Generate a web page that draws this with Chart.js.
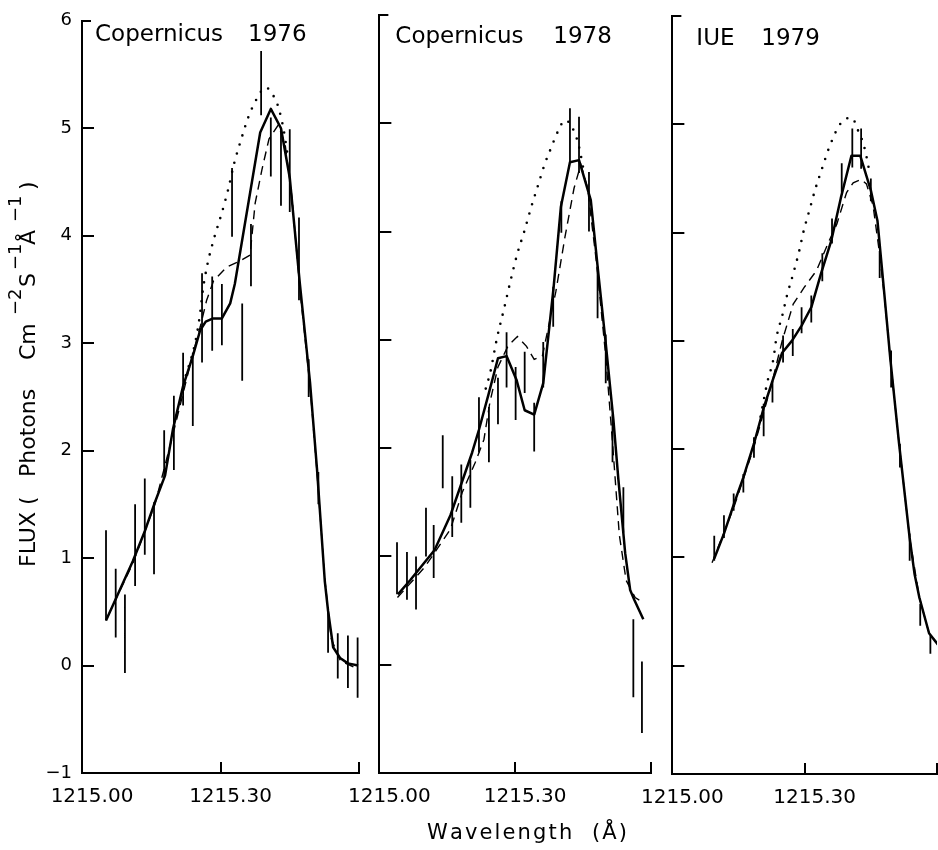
<!DOCTYPE html>
<html>
<head>
<meta charset="utf-8">
<title>Lyman-alpha profiles</title>
<script src="https://cdn.jsdelivr.net/npm/chart.js@4.4.1/dist/chart.umd.min.js"></script>
<style>
  html, body { margin: 0; padding: 0; background: #fff; }
  body { width: 938px; height: 850px; overflow: hidden; position: relative; }
  canvas { position: absolute; top: 0; }
</style>
</head>
<body>
<canvas id="panel1976" width="372" height="850" style="left:0px"></canvas>
<canvas id="panel1978" width="340" height="850" style="left:326px"></canvas>
<canvas id="panel1979" width="330" height="850" style="left:619px"></canvas>
<script>
// ---- axis ticks ----
const xTickValues = [1215.00, 1215.30, 1215.60];
const xTickLabels = ['1215.00', '1215.30', ''];
const yTickValues = [-1, 0, 1, 2, 3, 4, 5, 6];
const yTickLabels = ['\u22121', '0', '1', '2', '3', '4', '5', '6'];

// ---- Copernicus 1976 ----
const cop76Wave = [1215.052, 1215.110, 1215.136, 1215.158, 1215.180, 1215.197, 1215.219, 1215.240, 1215.256, 1215.268, 1215.284, 1215.303, 1215.321, 1215.331, 1215.386, 1215.409, 1215.431, 1215.450, 1215.472, 1215.494, 1215.509, 1215.526, 1215.533, 1215.544, 1215.559, 1215.576, 1215.598];
const cop76Flux = [0.42, 0.97, 1.25, 1.52, 1.77, 2.20, 2.60, 2.88, 3.12, 3.20, 3.23, 3.23, 3.37, 3.55, 4.96, 5.18, 5.00, 4.54, 3.55, 2.63, 1.83, 0.78, 0.51, 0.17, 0.07, 0.02, 0.00];
const cop76ModelWave = [1215.055, 1215.110, 1215.158, 1215.197, 1215.240, 1215.256, 1215.270, 1215.285, 1215.314, 1215.340, 1215.364, 1215.375, 1215.390, 1215.405, 1215.425, 1215.440, 1215.455, 1215.472, 1215.494, 1215.509, 1215.526, 1215.540, 1215.560, 1215.598];
const cop76ModelFlux = [0.45, 0.95, 1.50, 2.15, 2.90, 3.15, 3.40, 3.58, 3.71, 3.76, 3.82, 4.30, 4.62, 4.90, 5.03, 4.85, 4.35, 3.50, 2.60, 1.80, 0.80, 0.25, 0.04, -0.03];
const cop76IntrWave = [1215.225, 1215.245, 1215.255, 1215.262, 1215.272, 1215.287, 1215.302, 1215.316, 1215.330, 1215.345, 1215.360, 1215.378, 1215.398, 1215.412, 1215.425, 1215.437, 1215.447];
const cop76IntrFlux = [2.70, 3.00, 3.25, 3.50, 3.74, 3.99, 4.20, 4.42, 4.68, 4.90, 5.10, 5.27, 5.38, 5.32, 5.20, 4.98, 4.70];
const cop76ErrWave = [1215.052, 1215.073, 1215.093, 1215.115, 1215.136, 1215.156, 1215.178, 1215.199, 1215.219, 1215.240, 1215.260, 1215.282, 1215.303, 1215.325, 1215.347, 1215.366, 1215.388, 1215.409, 1215.431, 1215.450, 1215.470, 1215.491, 1215.512, 1215.533, 1215.554, 1215.576, 1215.597];
const cop76ErrHigh = [1.26, 0.90, 0.66, 1.50, 1.74, 1.52, 2.19, 2.51, 2.91, 2.91, 3.65, 3.62, 3.55, 4.63, 3.37, 4.11, 5.72, 5.10, 5.00, 4.99, 4.17, 2.85, 1.80, 0.54, 0.30, 0.28, 0.26];
const cop76ErrLow = [0.42, 0.26, -0.07, 0.74, 1.03, 0.85, 1.74, 1.82, 2.42, 2.23, 2.82, 2.93, 2.98, 3.99, 2.65, 3.53, 5.12, 4.55, 4.28, 4.22, 3.40, 2.50, 1.50, 0.12, -0.12, -0.21, -0.30];

// ---- Copernicus 1978 ----
const cop78Wave = [1215.041, 1215.068, 1215.122, 1215.157, 1215.205, 1215.220, 1215.242, 1215.262, 1215.281, 1215.303, 1215.321, 1215.342, 1215.362, 1215.385, 1215.401, 1215.421, 1215.441, 1215.467, 1215.484, 1215.500, 1215.517, 1215.528, 1215.543, 1215.554, 1215.563, 1215.583];
const cop78Flux = [0.65, 0.78, 1.06, 1.38, 1.96, 2.17, 2.51, 2.83, 2.85, 2.63, 2.35, 2.31, 2.60, 3.49, 4.23, 4.64, 4.66, 4.29, 3.60, 2.97, 2.26, 1.71, 1.03, 0.69, 0.60, 0.42];
const cop78ModelWave = [1215.040, 1215.100, 1215.157, 1215.183, 1215.212, 1215.231, 1215.244, 1215.262, 1215.285, 1215.305, 1215.325, 1215.342, 1215.360, 1215.375, 1215.390, 1215.410, 1215.430, 1215.445, 1215.460, 1215.480, 1215.500, 1215.515, 1215.530, 1215.545, 1215.565, 1215.585];
const cop78ModelFlux = [0.62, 0.90, 1.25, 1.59, 1.87, 2.08, 2.42, 2.75, 2.95, 3.03, 2.94, 2.82, 2.85, 3.15, 3.45, 3.95, 4.40, 4.62, 4.40, 3.70, 2.85, 2.05, 1.20, 0.78, 0.62, 0.57];
const cop78IntrWave = [1215.235, 1215.245, 1215.260, 1215.275, 1215.290, 1215.305, 1215.320, 1215.335, 1215.350, 1215.365, 1215.380, 1215.395, 1215.410, 1215.425, 1215.440, 1215.452];
const cop78IntrFlux = [2.55, 2.70, 3.02, 3.28, 3.55, 3.80, 4.00, 4.22, 4.42, 4.62, 4.78, 4.93, 5.03, 4.97, 4.80, 4.55];
const cop78ErrWave = [1215.039, 1215.061, 1215.081, 1215.103, 1215.120, 1215.140, 1215.161, 1215.181, 1215.201, 1215.220, 1215.242, 1215.262, 1215.281, 1215.301, 1215.321, 1215.342, 1215.362, 1215.384, 1215.402, 1215.421, 1215.441, 1215.463, 1215.482, 1215.500, 1215.515, 1215.539, 1215.561, 1215.580];
const cop78ErrHigh = [1.13, 1.04, 1.00, 1.45, 1.29, 2.12, 1.74, 1.85, 1.89, 2.47, 2.38, 2.65, 3.07, 2.75, 2.89, 2.42, 2.98, 3.49, 4.28, 5.14, 5.06, 4.55, 3.68, 3.05, 2.31, 1.64, 0.42, 0.03];
const cop78ErrLow = [0.65, 0.60, 0.51, 1.00, 0.80, 1.63, 1.18, 1.31, 1.45, 1.96, 1.87, 2.22, 2.56, 2.26, 2.51, 1.97, 2.56, 3.12, 3.99, 4.64, 4.54, 4.00, 3.20, 2.60, 1.87, 1.22, -0.30, -0.63];

// ---- IUE 1979 ----
const iueWave = [1215.095, 1215.117, 1215.141, 1215.161, 1215.185, 1215.207, 1215.227, 1215.249, 1215.271, 1215.293, 1215.315, 1215.337, 1215.360, 1215.382, 1215.406, 1215.426, 1215.450, 1215.465, 1215.480, 1215.494, 1215.514, 1215.538, 1215.549, 1215.560, 1215.582, 1215.605];
const iueFlux = [0.99, 1.22, 1.51, 1.74, 2.05, 2.38, 2.63, 2.89, 3.00, 3.14, 3.31, 3.62, 3.92, 4.32, 4.71, 4.71, 4.39, 4.11, 3.46, 2.84, 2.05, 1.18, 0.85, 0.63, 0.30, 0.18];
const iueModelWave = [1215.090, 1215.140, 1215.185, 1215.225, 1215.249, 1215.274, 1215.300, 1215.327, 1215.355, 1215.373, 1215.395, 1215.410, 1215.428, 1215.440, 1215.455, 1215.470, 1215.481, 1215.494, 1215.514, 1215.538, 1215.560, 1215.582, 1215.605];
const iueModelFlux = [0.95, 1.47, 2.02, 2.60, 3.00, 3.34, 3.50, 3.65, 3.92, 4.08, 4.37, 4.46, 4.49, 4.45, 4.25, 3.80, 3.40, 2.84, 2.05, 1.18, 0.63, 0.30, 0.18];
const iueIntrWave = [1215.200, 1215.216, 1215.229, 1215.236, 1215.249, 1215.260, 1215.274, 1215.287, 1215.298, 1215.311, 1215.324, 1215.340, 1215.355, 1215.377, 1215.392, 1215.408, 1215.419, 1215.428, 1215.437, 1215.446];
const iueIntrFlux = [2.30, 2.63, 2.83, 3.03, 3.23, 3.42, 3.62, 3.82, 4.02, 4.21, 4.40, 4.60, 4.78, 4.98, 5.05, 5.06, 4.96, 4.88, 4.76, 4.58];
const iueErrWave = [1215.095, 1215.117, 1215.139, 1215.161, 1215.185, 1215.207, 1215.227, 1215.251, 1215.273, 1215.293, 1215.315, 1215.340, 1215.362, 1215.384, 1215.408, 1215.428, 1215.450, 1215.470, 1215.496, 1215.516, 1215.538, 1215.562, 1215.585];
const iueErrHigh = [1.20, 1.39, 1.59, 1.77, 2.11, 2.42, 2.63, 3.05, 3.11, 3.31, 3.42, 3.81, 4.13, 4.64, 4.96, 4.96, 4.50, 3.83, 2.91, 2.05, 1.22, 0.57, 0.28];
const iueErrLow = [0.97, 1.18, 1.43, 1.60, 1.92, 2.12, 2.43, 2.80, 2.86, 3.07, 3.17, 3.55, 3.90, 4.37, 4.60, 4.59, 4.29, 3.58, 2.57, 1.83, 0.97, 0.37, 0.11];

// ---- helpers ----
const FONT = '"DejaVu Sans", "Liberation Sans", sans-serif';
Chart.defaults.font.family = FONT;
Chart.defaults.color = '#000';

function pts(xs, ys) { return xs.map((x, i) => ({ x, y: ys[i] })); }

// vertical error bars as separate two-point segments split by gaps
function bars(xs, hi, lo) {
  const out = [];
  xs.forEach((x, i) => { out.push({ x, y: lo[i] }, { x, y: hi[i] }, { x, y: null }); });
  return out;
}

// draws pieces of text at fixed offsets along the writing direction
function drawPlaced(ctx, runs, x0, y0) {
  runs.forEach(r => {
    ctx.font = r.font;
    ctx.fillText(r.t, x0 + r.at, y0 + (r.dy || 0));
  });
}

// draws one string spread evenly over a given width
function drawSpread(ctx, text, font, x0, y0, width) {
  ctx.font = font;
  const chars = [...text];
  const natural = chars.reduce((s, ch) => s + ctx.measureText(ch).width, 0);
  const gap = chars.length > 1 ? (width - natural) / (chars.length - 1) : 0;
  let x = x0;
  chars.forEach(ch => { ctx.fillText(ch, x, y0); x += ctx.measureText(ch).width + gap; });
}

// tick marks pointing into the plot
const innerTicks = {
  id: 'innerTicks',
  afterDraw(chart) {
    const { ctx, chartArea: a, scales: { x, y } } = chart;
    ctx.save();
    ctx.strokeStyle = '#000';
    ctx.lineWidth = 2;
    ctx.beginPath();
    y.ticks.forEach(t => {
      if (t.value === y.min) return;
      const py = Math.round(y.getPixelForValue(t.value));
      const len = t.value === y.max ? 9 : 12;
      ctx.moveTo(a.left, py); ctx.lineTo(a.left + len, py);
    });
    x.ticks.forEach(t => {
      if (t.value === x.min) return;
      const px = Math.round(x.getPixelForValue(t.value));
      ctx.moveTo(px, a.bottom); ctx.lineTo(px, a.bottom - 11);
    });
    ctx.stroke();
    ctx.restore();
  }
};

// panel captions and axis titles
const panelText = {
  id: 'panelText',
  afterDraw(chart, args, opts) {
    const ctx = chart.ctx, a = chart.chartArea;
    ctx.save();
    ctx.fillStyle = '#000';
    ctx.textAlign = 'left';
    ctx.textBaseline = 'alphabetic';
    drawPlaced(ctx, opts.title, a.left + opts.titleDx, opts.titleBaseline);
    if (opts.xTitle) {
      const xt = opts.xTitle;
      drawSpread(ctx, xt.text, xt.font, xt.cx - xt.width / 2, xt.baseline, xt.width);
    }
    if (opts.yTitle) {
      const yt = opts.yTitle;
      ctx.translate(yt.baselineX, yt.startY);
      ctx.rotate(-Math.PI / 2);
      drawPlaced(ctx, yt.runs, 0, 0);
    }
    ctx.restore();
  }
};

function makePanel(id, p) {
  const ds = [
    { data: pts(p.obsX, p.obsY), borderWidth: 2.5, borderJoinStyle: 'round' },
    { data: pts(p.modX, p.modY), borderWidth: 1.4, borderDash: [9, 6] },
    { data: pts(p.intX, p.intY), borderWidth: 2.6, borderDash: [0, 9.5], borderCapStyle: 'round', cubicInterpolationMode: 'monotone' },
    { data: bars(p.errX, p.errHi, p.errLo), borderWidth: 1.8 }
  ].map(d => Object.assign({ borderColor: '#000', pointRadius: 0, spanGaps: false, fill: false, tension: 0 }, d));

  return new Chart(document.getElementById(id), {
    type: 'line',
    data: { datasets: ds },
    plugins: [innerTicks, panelText],
    options: {
      responsive: false,
      animation: false,
      devicePixelRatio: 1,
      layout: { padding: { left: 0, right: p.padRight, top: p.padTop, bottom: 0 } },
      plugins: {
        legend: { display: false },
        tooltip: { enabled: false },
        panelText: p.text
      },
      scales: {
        x: {
          type: 'linear',
          min: xTickValues[0],
          max: xTickValues[xTickValues.length - 1],
          grid: { display: false, drawTicks: false },
          border: { display: true, color: '#000', width: 2 },
          ticks: {
            autoSkip: false, maxRotation: 0, minRotation: 0,
            padding: 12, labelOffset: 10,
            font: { size: 20 }, color: '#000',
            callback: (v, i) => xTickLabels[i]
          },
          afterBuildTicks: s => { s.ticks = xTickValues.map(v => ({ value: v })); },
          afterFit: s => { s.height = p.xHeight; }
        },
        y: {
          type: 'linear',
          min: yTickValues[0],
          max: yTickValues[yTickValues.length - 1],
          grid: { display: false, drawTicks: false },
          border: { display: true, color: '#000', width: 2 },
          ticks: {
            display: p.yLabels, padding: 10,
            font: { size: 18 }, color: '#000',
            callback: (v, i) => yTickLabels[i]
          },
          afterBuildTicks: s => { s.ticks = yTickValues.map(v => ({ value: v })); },
          afterFit: s => { s.width = p.yWidth; }
        }
      }
    }
  });
}

const TITLE_FONT = '23px ' + FONT;
const YT_FONT = '22px ' + FONT;
const YT_SUP = '18px ' + FONT;

makePanel('panel1976', {
  obsX: cop76Wave, obsY: cop76Flux,
  modX: cop76ModelWave, modY: cop76ModelFlux,
  intX: cop76IntrWave, intY: cop76IntrFlux,
  errX: cop76ErrWave, errHi: cop76ErrHigh, errLo: cop76ErrLow,
  padRight: 13, padTop: 15, xHeight: 77, yWidth: 82, yLabels: true,
  text: {
    titleDx: 13, titleBaseline: 41,
    title: [
      { t: 'Copernicus', at: 0, font: TITLE_FONT },
      { t: '1976', at: 153, font: TITLE_FONT }
    ],
    yTitle: {
      baselineX: 35, startY: 567,
      runs: [
        { t: 'FLUX', at: 0, font: YT_FONT },
        { t: '(', at: 62, font: YT_FONT },
        { t: 'Photons', at: 90, font: YT_FONT },
        { t: 'Cm', at: 207, font: YT_FONT },
        { t: '\u22122', at: 252, font: YT_SUP, dy: -14 },
        { t: 'S', at: 280, font: YT_FONT },
        { t: '\u22121', at: 297, font: YT_SUP, dy: -14 },
        { t: '\u00C5', at: 322, font: YT_FONT },
        { t: '\u22121', at: 345, font: YT_SUP, dy: -14 },
        { t: ')', at: 377, font: YT_FONT }
      ]
    }
  }
});

makePanel('panel1978', {
  obsX: cop78Wave, obsY: cop78Flux,
  modX: cop78ModelWave, modY: cop78ModelFlux,
  intX: cop78IntrWave, intY: cop78IntrFlux,
  errX: cop78ErrWave, errHi: cop78ErrHigh, errLo: cop78ErrLow,
  padRight: 15, padTop: 15, xHeight: 77, yWidth: 50, yLabels: false,
  text: {
    titleDx: 16, titleBaseline: 43,
    title: [
      { t: 'Copernicus', at: 0, font: TITLE_FONT },
      { t: '1978', at: 158, font: TITLE_FONT }
    ],
    xTitle: { text: 'Wavelength  (\u00C5)', font: '21px ' + FONT, cx: 201, baseline: 839, width: 200 }
  }
});

makePanel('panel1979', {
  obsX: iueWave, obsY: iueFlux,
  modX: iueModelWave, modY: iueModelFlux,
  intX: iueIntrWave, intY: iueIntrFlux,
  errX: iueErrWave, errHi: iueErrHigh, errLo: iueErrLow,
  padRight: 8, padTop: 16, xHeight: 76, yWidth: 50, yLabels: false,
  text: {
    titleDx: 24, titleBaseline: 45,
    title: [
      { t: 'IUE', at: 0, font: TITLE_FONT },
      { t: '1979', at: 65, font: TITLE_FONT }
    ]
  }
});
</script>
</body>
</html>
